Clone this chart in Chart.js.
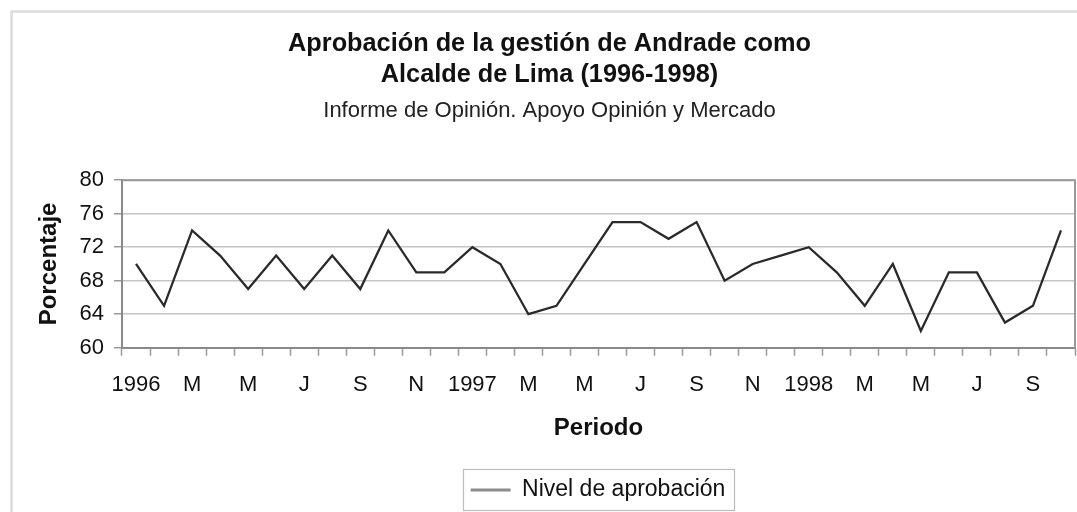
<!DOCTYPE html>
<html>
<head>
<meta charset="utf-8">
<script src="https://cdn.jsdelivr.net/npm/chart.js@4.4.1/dist/chart.umd.min.js"></script>
<style>
  html, body { margin: 0; padding: 0; background: #ffffff; }
  #wrap { width: 1077px; height: 512px; }
</style>
</head>
<body>
<div id="wrap"><canvas id="c" width="1077" height="512"></canvas></div>
<script>
// ---- Data ----
const months = ['1996','F','M','A','M','J','J','A','S','O','N','D',
                '1997','F','M','A','M','J','J','A','S','O','N','D',
                '1998','F','M','A','M','J','J','A','S','O'];
const approval = [70,65,74,71,67,71,67,71,67,74,69,69,
                  72,70,64,65,70,75,75,73,75,68,70,71,
                  72,69,65,70,62,69,69,63,65,74];
const seriesName = 'Nivel de aprobación';
const titleLines = ['Aprobación de la gestión de Andrade como', 'Alcalde de Lima (1996-1998)'];
const subtitleText = 'Informe de Opinión. Apoyo Opinión y Mercado';
const yTitle = 'Porcentaje';
const xTitle = 'Periodo';
const yMin = 60, yMax = 80, yStep = 4;

const FONT = '"Liberation Sans", Arial, Helvetica, sans-serif';

const framePlugin = {
  id: 'frame',
  afterLayout(chart) {
    const lg = chart.legend;
    if (lg) {
      const target = 598;
      const d = target - (lg.left + lg.right) / 2;
      lg.left += d; lg.right += d;
    }
  },
  beforeDatasetsDraw(chart) {
    const {ctx, chartArea: a} = chart;
    ctx.save();
    ctx.strokeStyle = '#9a9a9a';
    ctx.lineWidth = 2;
    ctx.beginPath();
    ctx.moveTo(a.left, a.top);
    ctx.lineTo(a.right, a.top);
    ctx.lineTo(a.right, a.bottom);
    ctx.stroke();
    ctx.restore();
  },
  afterDraw(chart) {
    const {ctx} = chart;
    ctx.save();
    // outer frame
    ctx.strokeStyle = '#dddddd';
    ctx.lineWidth = 2.5;
    ctx.beginPath();
    ctx.moveTo(11.5, chart.height);
    ctx.lineTo(11.5, 11.5);
    ctx.lineTo(chart.width, 11.5);
    ctx.stroke();
    // legend frame
    const lg = chart.legend;
    if (lg && lg.legendHitBoxes && lg.legendHitBoxes.length) {
      const h = lg.legendHitBoxes[0];
      ctx.strokeStyle = '#bdbdbd';
      ctx.lineWidth = 1.2;
      ctx.strokeRect(Math.round(h.left - 8) + 0.5, 469.5, Math.round(h.width + 16), 41);
    }
    ctx.restore();
  }
};

new Chart(document.getElementById('c'), {
  type: 'line',
  data: {
    labels: months,
    datasets: [{
      label: seriesName,
      data: approval,
      borderColor: '#2a2a2a',
      backgroundColor: '#8c8c8c',
      borderWidth: 2.3,
      pointRadius: 0,
      tension: 0,
      fill: false
    }]
  },
  options: {
    responsive: false,
    animation: false,
    devicePixelRatio: 1,
    layout: { padding: { left: 23, right: 1, top: 0, bottom: 0.5 } },
    plugins: {
      title: {
        display: true,
        text: titleLines,
        color: '#111',
        font: { family: FONT, size: 25.3, weight: 'bold', lineHeight: 1.2 },
        padding: { top: 29, bottom: 0 }
      },
      subtitle: {
        display: true,
        text: subtitleText,
        color: '#222',
        font: { family: FONT, size: 22, weight: 'normal', lineHeight: 1.2 },
        padding: { top: 7.8, bottom: 56.3 }
      },
      legend: {
        display: true,
        position: 'bottom',
        labels: {
          color: '#111',
          font: { family: FONT, size: 23 },
          boxWidth: 40,
          boxHeight: 3,
          padding: 10,
          generateLabels(chart) {
            const items = Chart.defaults.plugins.legend.labels.generateLabels(chart);
            return items.map(it => Object.assign(it, { lineWidth: 0, strokeStyle: 'rgba(0,0,0,0)', fillStyle: '#8c8c8c' }));
          }
        }
      },
      tooltip: { enabled: false }
    },
    scales: {
      x: {
        type: 'category',
        offset: true,
        grid: {
          offset: true,
          drawOnChartArea: false,
          drawTicks: true,
          tickLength: 8,
          tickColor: '#9a9a9a',
          tickWidth: 1.5
        },
        border: { display: true, color: '#8a8a8a', width: 2 },
        ticks: {
          autoSkip: false,
          maxRotation: 0,
          minRotation: 0,
          padding: 16,
          color: '#111',
          font: { family: FONT, size: 22 }
          ,
          callback(val, i) { return i % 2 === 0 ? months[i] : ''; }
        },
        title: {
          display: true,
          text: xTitle,
          color: '#111',
          font: { family: FONT, size: 24, weight: 'bold', lineHeight: 1.2 },
          padding: { top: 15.5, bottom: 26.1 }
        },
        afterFit(scale) { scale.height = 120.8; }
      },
      y: {
        min: yMin,
        max: yMax,
        grid: {
          color: '#c4c4c4',
          lineWidth: 1.5,
          drawTicks: true,
          tickLength: 8,
          tickColor: '#9a9a9a'
        },
        border: { display: true, color: '#8a8a8a', width: 2 },
        ticks: {
          stepSize: yStep,
          padding: 10,
          color: '#111',
          font: { family: FONT, size: 22 }
        },
        title: {
          display: true,
          text: yTitle,
          color: '#111',
          font: { family: FONT, size: 24, weight: 'bold', lineHeight: 1.2 },
          padding: { top: 11.6, bottom: 0 }
        },
        afterFit(scale) { scale.width = 99; }
      }
    }
  },
  plugins: [framePlugin]
});
</script>
</body>
</html>
